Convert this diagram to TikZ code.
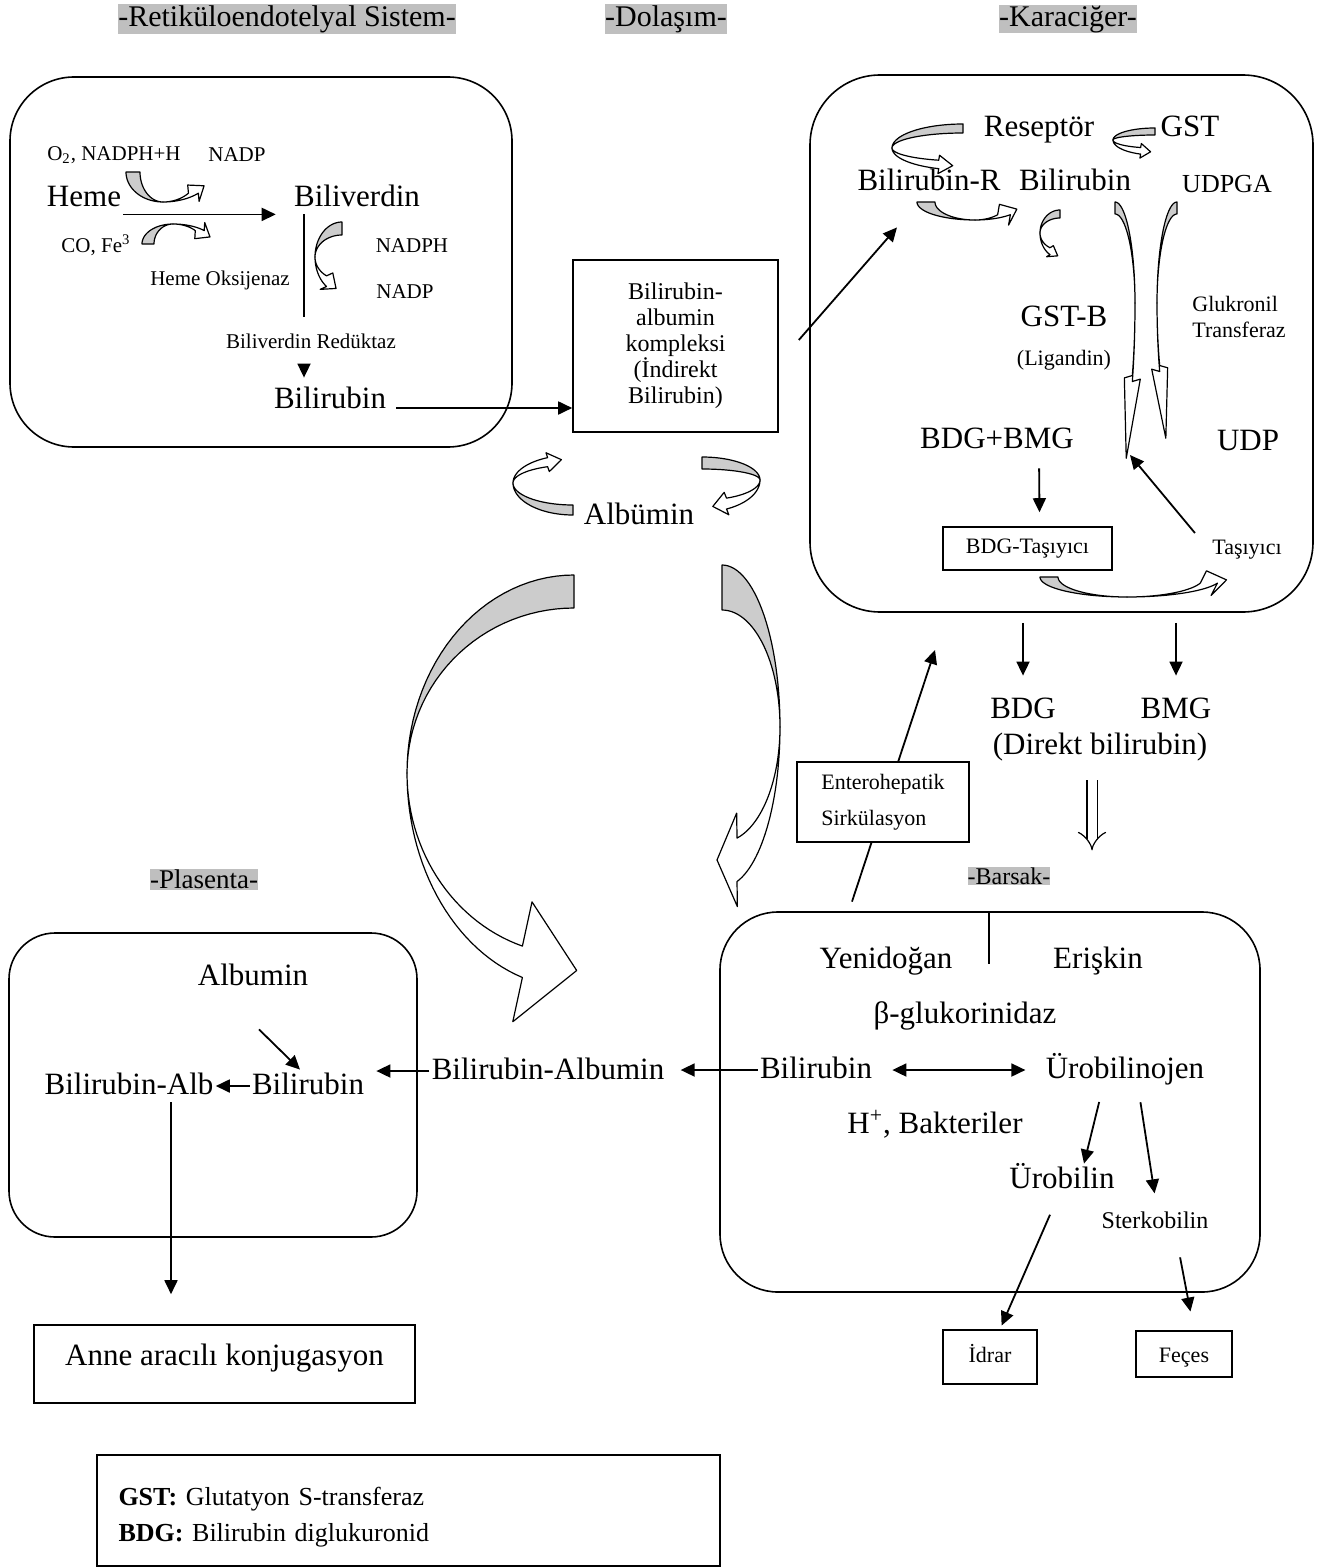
\documentclass[tikz,border=0pt]{standalone}
\usepackage{fontspec}
\setmainfont{Liberation Serif}
\usetikzlibrary{arrows.meta,positioning}

\definecolor{ribbon}{gray}{0.8}
\definecolor{tagbg}{gray}{0.75}

% ribbon arrow: width/upper half/lower half/thickness/end angle/head length/barb/head turn
\tikzset{
  pics/bend/.style args={#1/#2/#3/#4/#5/#6/#7/#8}{code={
    \pgfmathsetmacro\cvX{#1+#1*cos(#5)}
    \pgfmathsetmacro\cvYo{#3+#3*sin(#5)}
    \pgfmathsetmacro\cvYi{#3+(#3-#4)*sin(#5)}
    \pgfmathsetmacro\cvM{(\cvYo+\cvYi)/2}
    \pgfmathsetmacro\cvHw{(\cvYi-\cvYo)/2+#7}
    \pgfmathsetmacro\cvDx{-#1*sin(#5)/100}
    \pgfmathsetmacro\cvDy{(#3-#4/2)*cos(#5)/100}
    \pgfmathsetmacro\cvN{veclen(\cvDx,\cvDy)}
    \pgfmathsetmacro\cvUx{(\cvDx*cos(#8)-\cvDy*sin(#8))/\cvN}
    \pgfmathsetmacro\cvUy{(\cvDx*sin(#8)+\cvDy*cos(#8))/\cvN}
    \begin{scope}[yscale=-1,line width=0.6pt,line join=round]
      \filldraw[fill=ribbon] plot[domain=90:180,samples=30] ({#1+#1*cos(\x)},{#3+#2*sin(\x)})
        -- plot[domain=180:90,samples=30] ({#1+#1*cos(\x)},{#3+(#2-#4)*sin(\x)}) -- cycle;
      \filldraw[fill=white] plot[domain=180:#5,samples=30] ({#1+#1*cos(\x)},{#3+#3*sin(\x)})
        -- ({\cvX+\cvHw*\cvUy},{\cvM-\cvHw*\cvUx})
        -- ({\cvX+#6*\cvUx},{\cvM+#6*\cvUy})
        -- ({\cvX-\cvHw*\cvUy},{\cvM+\cvHw*\cvUx})
        -- plot[domain=#5:180,samples=30] ({#1+#1*cos(\x)},{#3+(#3-#4)*sin(\x)}) -- cycle;
    \end{scope}
  }}
}

\begin{document}
\begin{tikzpicture}[x=0.5pt,y=-0.5pt,>={Triangle[length=7pt,width=6.5pt]},
    every node/.style={inner sep=1pt},
    region/.style={draw,line width=0.8pt,rounded corners=#1},
    box/.style={draw,line width=0.8pt},
    tag/.style={fill=tagbg,inner xsep=0pt,inner ysep=0.5pt,font=\fontsize{15}{17}\selectfont},
    big/.style={font=\fontsize{15.5}{18}\selectfont,text height=11pt,text depth=3pt},
    small/.style={font=\fontsize{10.5}{12}\selectfont},
    note/.style={font=\fontsize{11}{13}\selectfont},
    arr/.style={->,line width=0.9pt}]
\useasboundingbox (0,0) rectangle (1339,1568);

% section titles
\node[tag] (hres) at (287,19) {-Retiküloendotelyal Sistem-};
\node[tag] (hdol) at (666,19) {-Dolaşım-};
\node[tag] (hkar) at (1068,19) {-Karaciğer-};
\node[tag,font=\fontsize{13.5}{15}\selectfont] (hpla) at (204,879) {-Plasenta-};
\node[tag,font=\fontsize{12}{14}\selectfont] (hbar) at (1009,876) {-Barsak-};

% compartments
\node[region=32pt,minimum width=251pt,minimum height=185pt] (res) at (261,262) {};
\node[region=35pt,minimum width=251.5pt,minimum height=268.5pt] (liver) at (1061.5,343.5) {};
\node[region=23pt,minimum width=204pt,minimum height=152pt] (pla) at (213,1085) {};
\node[region=29pt,minimum width=270pt,minimum height=190pt] (gut) at (990,1102) {};

% retikuloendotelyal sistem
\node[small] (o2) at (114,155) {O\textsubscript{2}, NADPH+H};
\node[small] (nadpa) at (237,155) {NADP};
\node[big] (heme) at (84,198) {Heme};
\node[big] (biliv) at (357,198) {Biliverdin};
\node[small] (co) at (96,245) {CO, Fe\textsuperscript{3}};
\node[small] (hox) at (220,280) {Heme Oksijenaz};
\node[small] (nadph) at (412,246) {NADPH};
\node[small] (nadpb) at (405,292) {NADP};
\node[small] (bvr) at (311,341) {Biliverdin Redüktaz};
\node[big] (bilr) at (330,400) {Bilirubin};
\draw[arr,shorten >=8pt] (heme.south east) -- (heme.south east -| biliv.west);
\draw[line width=0.9pt] ([xshift=-26.5pt]biliv.south) -- ++(0,103);
\draw[arr,shorten <=9pt,shorten >=3pt] ([xshift=-3.5pt]bvr.south) -- ([xshift=-3.5pt]bvr.south |- bilr.north);
\pic[shift={(213,202)},rotate=90] {bend=30/37/50/14/225/13/5/0};
\pic[shift={(215,224)},yscale=-1,rotate=90] {bend=20/31/42/12/228/12/5/0};
\pic[shift={(315,293)}] {bend=27/35/36/13/235/12/5/0};

% dolasim
\node[box,font=\fontsize{12}{13}\selectfont,align=center,minimum width=102.5pt,minimum height=86pt] (bac) at (675.5,346)
  {Bilirubin-\\albumin\\kompleksi\\(İndirekt\\Bilirubin)};
\node[big] (alb) at (639,516) {Albümin};
\draw[arr,shorten <=4pt] (bilr.base east) -- (bilr.base east -| bac.west);
\pic[shift={(513,455)},yscale=-1] {bend=60/32/28/10/245/14/5/0};
\pic[shift={(760,512)},xscale=-1] {bend=58/23/32/12/245/14/6/0};
\pic[shift={(407,988)}] {bend=167/198/215/33/252/55/45/12};
\pic[shift={(780,887)},xscale=-1] {bend=58/162/160/45/255/20/25/32};

% karaciger
\node[big] (rec) at (1039,128) {Reseptör};
\node[big] (gst) at (1190,128) {GST};
\node[big] (bilR) at (929,183) {Bilirubin-R};
\node[big] (bilH) at (1075,183) {Bilirubin};
\node[font=\fontsize{13}{15}\selectfont] (udpga) at (1227,184) {UDPGA};
\node[big] (gstb) at (1064,318) {GST-B};
\node[note] (lig) at (1064,360) {(Ligandin)};
\node[note,align=left] (glk) at (1239,317) {Glukronil\\Transferaz};
\node[big] (bdgbmg) at (997,440) {BDG+BMG};
\node[big] (udp) at (1248,442) {UDP};
\node[box,note,minimum width=84.5pt,minimum height=21.5pt] (bdgt) at (1027.5,548.5) {BDG-Taşıyıcı};
\node[note] (tas) at (1247,550) {Taşıyıcı};
\coordinate (udpin) at (1130,455);
\draw[arr] ([xshift=10pt,yshift=3pt]bac.east) -- ([xshift=-16pt,yshift=-14pt]bilR.south);
\draw[arr,shorten <=6pt] ([xshift=21pt]bdgbmg.south) -- ([xshift=6pt,yshift=7pt]bdgt.north);
\draw[arr] ([xshift=-7.5pt,yshift=2.5pt]tas.north west) -- (udpin);
\pic[shift={(892,170)}] {bend=71/24/22/9/250/14/5/0};
\pic[shift={(1113,155)}] {bend=42/12/15/7/250/10/4/0};
\pic[shift={(1025,220)},rotate=90] {bend=18/58/50/18/225/14/5/0};
\pic[shift={(1040,258)}] {bend=20/23/25/8/240/9/3/0};
\pic[shift={(1135,460)},xscale=-1] {bend=20/101/157/12/210/80/5/0};
\pic[shift={(1157,440)}] {bend=20/101/137/12/210/70/5/0};
\pic[shift={(1222,597)},rotate=90] {bend=20/87/95/18/252/18/4/-25};

% direkt bilirubin
\node[big] (bdg) at (1023,710) {BDG};
\node[big] (bmg) at (1176,710) {BMG};
\node[big] (dbil) at (1100,746) {(Direkt bilirubin)};
\draw[arr,shorten <=5pt,shorten >=9pt] (liver.south -| bdg.north) -- (bdg.north);
\draw[arr,shorten <=5pt,shorten >=9pt] (liver.south -| bmg.north) -- (bmg.north);
\draw[double,double distance=4.5pt,line width=0.6pt,-{Implies}] ([xshift=-4pt,yshift=-9pt]dbil.south) -- ++(0,70);

% barsak
\node[big] (yeni) at (886,960) {Yenidoğan};
\node[big] (erik) at (1098,960) {Erişkin};
\node[big] (beta) at (965,1015) {β-glukorinidaz};
\node[big] (bilG) at (816,1070) {Bilirubin};
\node[big] (uro) at (1125,1070) {Ürobilinojen};
\node[big] (hbak) at (935,1125) {H\textsuperscript{+}, Bakteriler};
\node[big] (urob) at (1062,1180) {Ürobilin};
\node[font=\fontsize{12}{14}\selectfont] (sterk) at (1155,1220) {Sterkobilin};
\node[box,note,text height=7.5pt,text depth=2.5pt,minimum width=47pt,minimum height=27pt] (idrar) at (990,1357) {İdrar};
\node[box,note,text height=11pt,text depth=2.5pt,minimum width=48pt,minimum height=23pt] (feces) at (1184,1354) {Feçes};
\draw[line width=0.6pt] (gut.north) ++(-1,0) -- ++(0,53);
\coordinate (liverin) at (935,650);
\draw[arr] ([xshift=-17pt,yshift=21pt]yeni.north) -- (liverin);
\node[box,fill=white,font=\fontsize{11}{18}\selectfont,align=left,minimum width=86pt,minimum height=40pt] (ent) at (883,802)
  {Enterohepatik\\Sirkülasyon};
\draw[arr,<->,shorten <=9pt,shorten >=9pt] (bilG.east) -- (uro.west);
\path[arr] ([xshift=-11pt]uro.south) edge[shorten <=8pt] ([xshift=11pt]urob.north)
           ([xshift=6.5pt]uro.south) edge[shorten <=8pt,shorten >=8pt] ([xshift=1pt]sterk.north)
           ([xshift=-2pt]urob.south) edge[shorten <=10pt,shorten >=2pt] ([xshift=5pt]idrar.north)
           ([xshift=10pt]sterk.south) edge[shorten <=13.5pt,shorten >=9.5pt] ([xshift=5pt]feces.north);

% plasenta
\node[big] (albP) at (253,977) {Albumin};
\node[big] (bAlb) at (129,1086) {Bilirubin-Alb};
\node[big] (bilP) at (308,1086) {Bilirubin};
\node[big] (balb) at (548,1071) {Bilirubin-Albumin};
\node[box,big,text depth=10pt,minimum width=190.5pt,minimum height=39pt] (anne) at (224.5,1364) {Anne aracılı konjugasyon};
\path[arr] ([xshift=3pt,yshift=-18pt]albP.south) edge ([xshift=-4pt]bilP.north)
           (bilP.west) edge (bAlb.east)
           (balb.west) edge[shorten >=5pt] (balb.west -| bilP.east)
           (bilG.west) edge[shorten >=7pt] (bilG.west -| balb.east);
\draw[arr,shorten >=15pt] ([xshift=21pt]bAlb.south) -- ([xshift=21pt]bAlb.south |- anne.north);

% legend
\node[box,font=\fontsize{13}{18}\selectfont,text width=290pt,align=left,inner xsep=10.75pt,minimum height=55.5pt] (legend) at (408.5,1510.5)
  {\rule{0pt}{16pt}\textbf{GST:} Glutatyon S-transferaz\\\textbf{BDG:} Bilirubin diglukuronid};
\end{tikzpicture}
\end{document}
